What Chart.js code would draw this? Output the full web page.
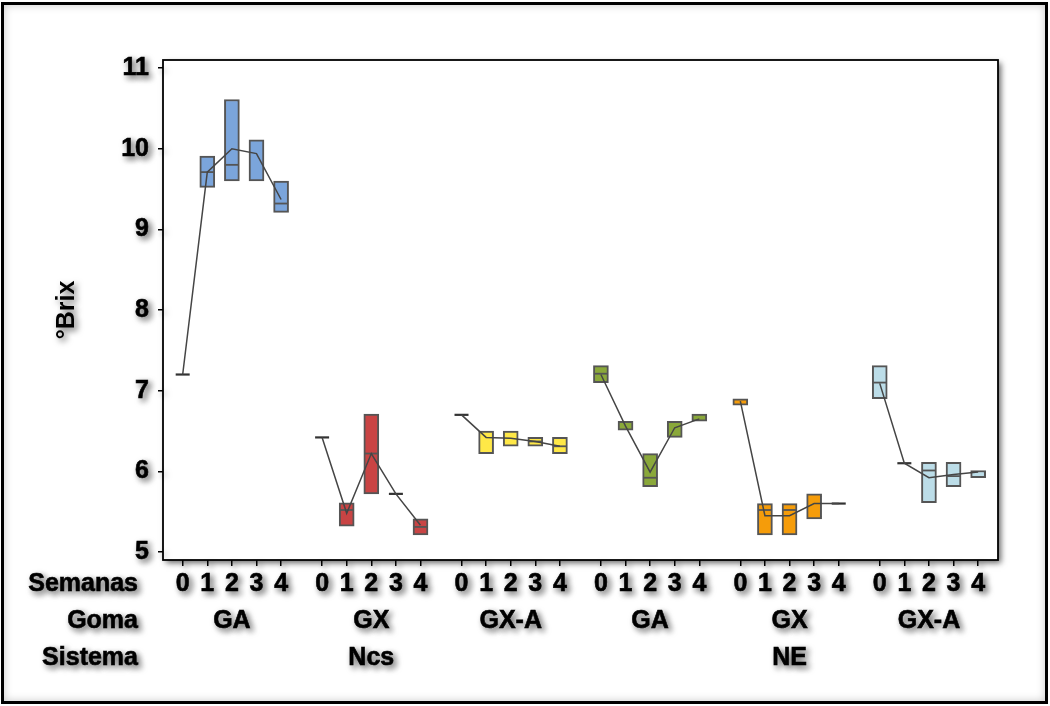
<!DOCTYPE html>
<html>
<head>
<meta charset="utf-8">
<script src="https://cdn.jsdelivr.net/npm/chart.js@4.4.1/dist/chart.umd.min.js"></script>
<style>
  html, body { margin: 0; padding: 0; background: #fff; }
  #wrap { position: relative; width: 1050px; height: 706px; }
  canvas { position: absolute; left: 0; top: 0; }
  #frame { position: absolute; left: 1px; top: 2px; width: 1047px; height: 702px;
           box-sizing: border-box; border: 3px solid #000;
           box-shadow: inset 0 0 8px rgba(0,0,0,0.22); pointer-events: none; }
</style>
</head>
<body>
<div id="wrap">
  <canvas id="c" width="1050" height="706"></canvas>
  <div id="frame"></div>
</div>
<script>
// Factors: week of storage, gum type, system
const semanas  = [0, 1, 2, 3, 4];
const gomas    = ['GA', 'GX', 'GX-A', 'GA', 'GX', 'GX-A'];
const sistemas = ['Ncs', 'NE'];          // each system spans three gums
const colores  = ['#7BA5DB', '#C94444', '#FFE847', '#8AA83A', '#F59C0A', '#BCDDE8'];

// °Brix per gum x week: box bottom (Q1), box top (Q3), median and mean
const cajaBaja = [
  [null, 9.52, 9.60, 9.60, 9.21],
  [null, 5.32, 5.72, null, 5.21],
  [null, 6.22, 6.31, 6.31, 6.22],
  [7.10, 6.51, 5.81, 6.42, 6.62],
  [6.82, 5.21, 5.21, 5.41, null],
  [6.90, null, 5.61, 5.81, 5.92]
];
const cajaAlta = [
  [null, 9.91, 10.61, 10.11, 9.60],
  [null, 5.61, 6.71, null, 5.41],
  [null, 6.50, 6.50, 6.42, 6.42],
  [7.31, 6.62, 6.22, 6.62, 6.71],
  [6.90, 5.60, 5.60, 5.72, null],
  [7.31, null, 6.11, 6.11, 6.01]
];
const medianas = [
  [7.20, 9.71, 9.80, null, 9.32],
  [6.42, 5.52, 6.22, 5.72, 5.31],
  [6.70, null, null, 6.37, 6.31],
  [7.21, null, 5.92, null, null],
  [null, 5.52, 5.52, null, 5.60],
  [7.10, 6.10, 6.01, 5.94, null]
];
const medias = [
  [7.20, 9.71, 10.00, 9.94, 9.37],
  [6.42, 5.48, 6.22, 5.72, 5.33],
  [6.70, 6.42, 6.41, 6.37, 6.31],
  [7.20, 6.56, 5.99, 6.54, 6.65],
  [6.87, 5.45, 5.45, 5.60, 5.60],
  [7.09, 6.10, 5.92, 5.96, 5.99]
];
const yTicks = [5, 6, 7, 8, 9, 10, 11];
const etiquetasFilas = ['Semanas', 'Goma', 'Sistema'];

// x position of a gum/week cell (extra space between gum blocks)
const huecoGrupo = 2 / 3;
const pos = (g, w) => g * (semanas.length + huecoGrupo) + w;

const FUENTE = 'Liberation Sans, Arial, Helvetica, sans-serif';
const TAM = 25;
const ALTO_LINEA = 37;
const LARGO_TICK_X = 6;
const PAD_X = 0;
const TRAZO_TEXTO = 0.6;

// tick positions and multi-line labels of the category axis
const xPosiciones = [];
const xEtiquetas = [];
gomas.forEach((gm, g) => {
  semanas.forEach((s, w) => {
    xPosiciones.push(pos(g, w));
    const lineas = [String(s)];
    if (w === 2) {
      lineas.push(gm);
      if (g % 3 === 1) lineas.push(sistemas[Math.floor(g / 3)]);
    }
    xEtiquetas.push(lineas);
  });
});

const datasets = [];
gomas.forEach((gm, g) => {
  // mean profile across weeks
  datasets.push({
    type: 'line', order: 0,
    data: semanas.map((s, w) => ({ x: pos(g, w), y: medias[g][w] })),
    borderColor: '#454545', borderWidth: 1.5, pointRadius: 0, tension: 0, fill: false
  });
});
// single observations drawn as a short dash
const sueltos = [];
const medBox = [];
gomas.forEach((gm, g) => semanas.forEach((s, w) => {
  const m = medianas[g][w];
  if (m === null) return;
  if (cajaBaja[g][w] === null) sueltos.push({ x: pos(g, w), y: m });
  else medBox.push({ x: pos(g, w), y: m });
}));
datasets.push({
  type: 'scatter', order: 0, data: sueltos,
  pointStyle: 'line', pointRadius: 7, borderColor: '#333', borderWidth: 2.2,
  pointBorderColor: '#333', pointBorderWidth: 2.2
});
datasets.push({
  type: 'scatter', order: 1, data: medBox,
  pointStyle: 'line', pointRadius: 7, borderColor: '#555', borderWidth: 1.8,
  pointBorderColor: '#555', pointBorderWidth: 1.8
});
// interquartile boxes
gomas.forEach((gm, g) => {
  const d = [];
  semanas.forEach((s, w) => {
    if (cajaBaja[g][w] !== null) d.push({ x: pos(g, w), y: [cajaBaja[g][w], cajaAlta[g][w]] });
  });
  datasets.push({
    type: 'bar', order: 2, data: d, grouped: false,
    backgroundColor: colores[g], borderColor: '#555', borderWidth: 2,
    borderSkipped: false, barThickness: 15
  });
});

const SOMBRA = { color: 'rgba(0,0,0,0.6)', blur: 6, dx: 3, dy: 3 };

const sombraPlugin = {
  id: 'sombraTexto',
  beforeDraw(chart) {
    const { ctx, chartArea: a } = chart;
    ctx.save();
    ctx.shadowColor = SOMBRA.color; ctx.shadowBlur = SOMBRA.blur;
    ctx.shadowOffsetX = SOMBRA.dx; ctx.shadowOffsetY = SOMBRA.dy;
    ctx.fillStyle = '#fff';
    ctx.fillRect(a.left, a.top, a.width, a.height);
    ctx.save();
    ctx.shadowColor = 'rgba(0,0,0,0)';
    ctx.strokeStyle = '#000'; ctx.lineWidth = 1.8;
    ctx.strokeRect(a.left, a.top, a.width, a.height);
    ctx.restore();
  },
  beforeDatasetsDraw(chart) {
    chart.ctx.save();
    chart.ctx.shadowColor = 'rgba(0,0,0,0)';
  },
  afterDatasetsDraw(chart) {
    chart.ctx.restore();
  },
  afterDraw(chart) {
    const { ctx } = chart;
    const xs = chart.scales.x;
    ctx.font = 'bold ' + TAM + 'px ' + FUENTE;
    ctx.fillStyle = '#000';
    ctx.strokeStyle = '#000';
    ctx.lineWidth = TRAZO_TEXTO;
    ctx.textAlign = 'right';
    ctx.textBaseline = 'middle';
    etiquetasFilas.forEach((t, i) => {
      const y = xs.top + LARGO_TICK_X + PAD_X + ALTO_LINEA / 2 + i * ALTO_LINEA;
      ctx.strokeText(t, 138, y);
      ctx.fillText(t, 138, y);
    });
    ctx.restore();
  }
};

Chart.defaults.font.family = FUENTE;
Chart.defaults.color = '#000';

new Chart(document.getElementById('c'), {
  type: 'bar',
  data: { datasets },
  plugins: [sombraPlugin],
  options: {
    responsive: false,
    animation: false,
    events: [],
    layout: { padding: { left: 0, top: 60, right: 52, bottom: 0 } },
    plugins: { legend: { display: false }, tooltip: { enabled: false } },
    scales: {
      x: {
        type: 'linear',
        offset: false,
        min: -0.8, max: 33.14,
        afterFit: s => { s.height = 146; },
        afterBuildTicks: s => { s.ticks = xPosiciones.map(v => ({ value: v })); },
        border: { display: false },
        grid: { offset: false, drawOnChartArea: false, drawTicks: true, tickLength: LARGO_TICK_X, color: '#000', lineWidth: 1.5 },
        ticks: {
          autoSkip: false, maxRotation: 0, minRotation: 0, padding: PAD_X,
          color: '#000', textStrokeColor: '#000', textStrokeWidth: TRAZO_TEXTO,
          font: { size: TAM, weight: 'bold', lineHeight: ALTO_LINEA / TAM },
          callback: (v, i) => xEtiquetas[i]
        }
      },
      y: {
        type: 'linear',
        min: 4.9, max: 11.1,
        afterFit: s => { s.width = 163; },
        afterBuildTicks: s => { s.ticks = yTicks.map(v => ({ value: v })); },
        border: { display: false },
        grid: { drawOnChartArea: false, drawTicks: true, tickLength: 5, color: '#000', lineWidth: 1.5 },
        ticks: { padding: 9, color: '#000', textStrokeColor: '#000', textStrokeWidth: TRAZO_TEXTO,
                 font: { size: TAM, weight: 'bold' } },
        title: {
          display: true, text: '°Brix', color: '#000',
          font: { size: TAM, weight: 'bold', lineHeight: 1.2 },
          padding: { top: 52, bottom: 0 }
        }
      }
    }
  }
});
</script>
</body>
</html>
